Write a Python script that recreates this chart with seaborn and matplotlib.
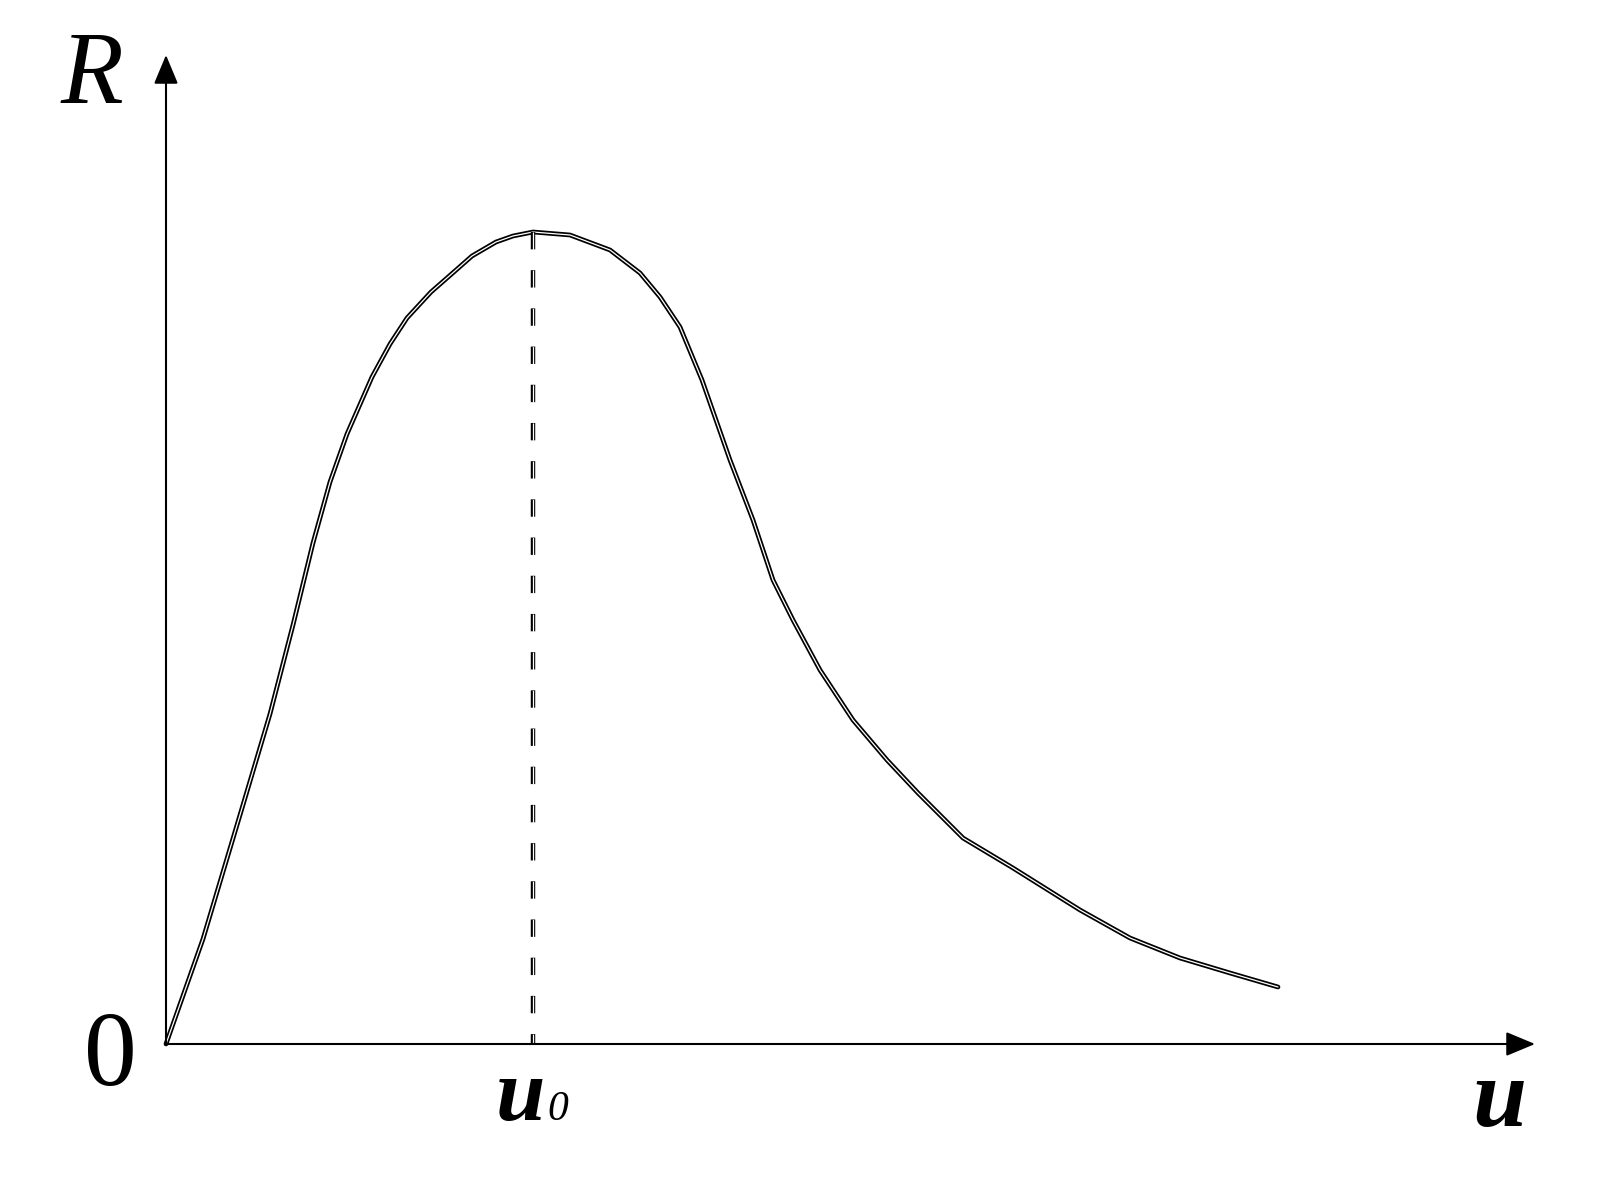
import numpy as np
import pandas as pd
import matplotlib
matplotlib.use("Agg")
import matplotlib.pyplot as plt
import matplotlib.patheffects as pe
import seaborn as sns

# curve (u, R in pixel-like units, origin at the axes corner)
u_vals = [0, 37, 74, 104, 127, 147, 164, 181, 206, 224, 241, 265, 281, 306,
          330, 347, 367, 404, 444, 474, 494, 514, 536, 564, 587, 607, 627,
          654, 687, 721, 752, 797, 847, 914, 964, 1014, 1064, 1112]
r_vals = [0, 105, 229, 330, 419, 501, 562, 610, 667, 700, 726, 752, 766, 788,
          802, 808, 812, 809, 794, 771, 747, 717, 664, 584, 524, 464, 424,
          374, 324, 284, 251, 206, 176, 134, 106, 86, 71, 57]
u_peak = 367
r_peak = 812
u_end = 1369
r_end = 989

data = pd.DataFrame({"u": u_vals, "R": r_vals})

sns.set_theme(style="white")
plt.rcParams["font.family"] = ["Liberation Serif", "DejaVu Serif"]
plt.rcParams["text.color"] = "black"
plt.rcParams["lines.scale_dashes"] = False

fig = plt.figure(figsize=(16.08, 12), dpi=100)
ax = fig.add_axes([0, 0, 1, 1])
ax.set_xlim(-166, 1442)
ax.set_ylim(-156, 1044)
ax.axis("off")

double = [pe.Stroke(linewidth=3.4, foreground="black"),
          pe.Stroke(linewidth=0.9, foreground="white")]

sns.lineplot(data=data, x="u", y="R", ax=ax, color="black", sort=False)
ax.lines[-1].set_path_effects(double)

# dashed marker at the peak, drawn top-down so the pattern starts at the curve
ax.plot([u_peak, u_peak], [r_peak, 0], color="black", lw=3.2,
        dashes=(12.5, 15))
ax.plot([u_peak, u_peak], [r_peak, 0], color="white", lw=0.9,
        dashes=(12.5, 15))

# axes with arrows
arrow_style = "-|>,head_length=0.6,head_width=0.25"
ax.annotate("", xy=(u_end, 0), xytext=(0, 0),
            arrowprops=dict(arrowstyle=arrow_style, color="black", lw=1.5,
                            mutation_scale=30, shrinkA=0, shrinkB=0))
ax.annotate("", xy=(0, r_end), xytext=(0, 0),
            arrowprops=dict(arrowstyle=arrow_style, color="black", lw=1.5,
                            mutation_scale=30, shrinkA=0, shrinkB=0))

ax.text(-74, 941, "R", fontsize=74, style="italic", ha="center", va="baseline")
ax.text(-56, -41, "0", fontsize=76, ha="center", va="baseline")
ax.text(354, -76, "u", fontsize=64, style="italic", fontweight="bold",
        ha="center", va="baseline")
ax.text(381, -76, "0", fontsize=30, style="italic", ha="left", va="baseline")
ax.text(1334, -82, "u", fontsize=70, style="italic", fontweight="bold",
        ha="center", va="baseline")

fig.savefig("out.png", dpi=100)
